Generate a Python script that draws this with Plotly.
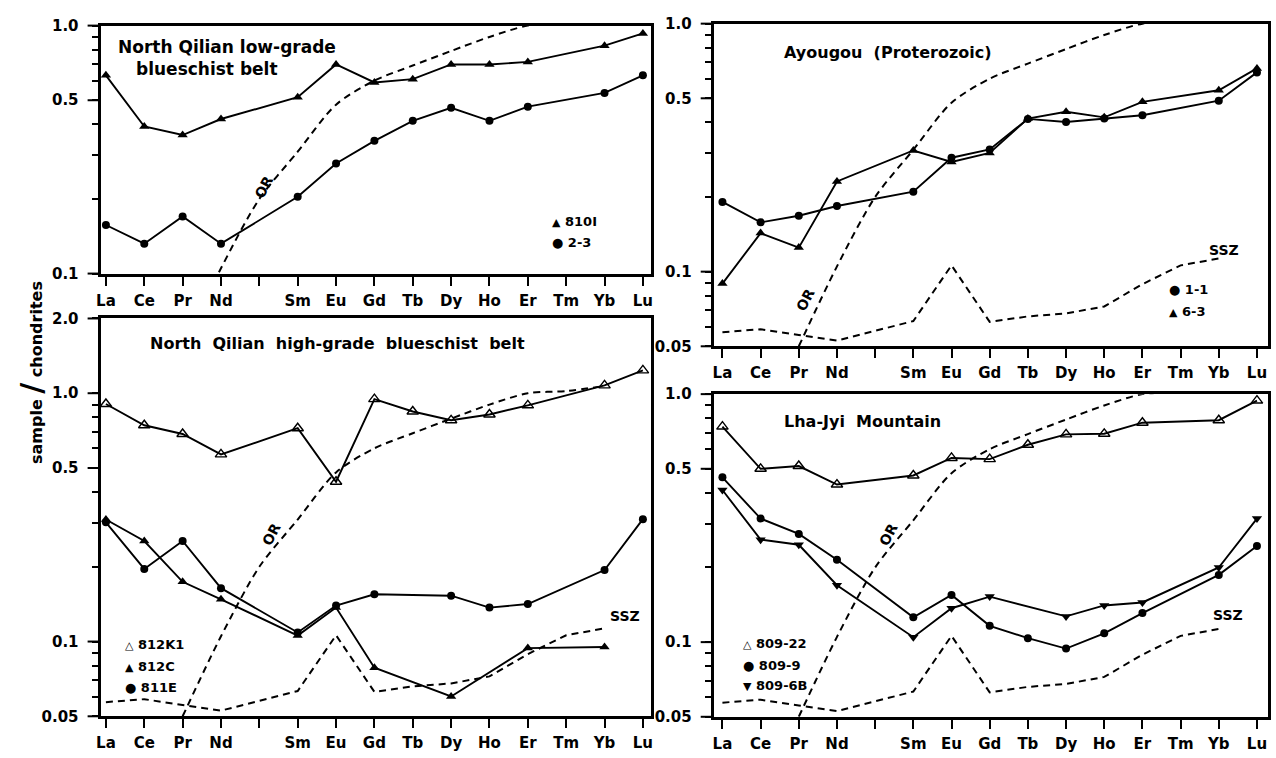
import math
import plotly.graph_objects as go

W, H = 1276, 758

# ---------------- data ----------------
elements = ["La", "Ce", "Pr", "Nd", "Pm", "Sm", "Eu", "Gd", "Tb", "Dy", "Ho", "Er", "Tm", "Yb", "Lu"]
tick_labels = ["La", "Ce", "Pr", "Nd", "", "Sm", "Eu", "Gd", "Tb", "Dy", "Ho", "Er", "Tm", "Yb", "Lu"]

# reference curves
OR = [None, None, 0.05, 0.105, 0.2, 0.31, 0.48, 0.6, 0.69, 0.79, 0.9, 1.0, 1.02, 1.07, None]
SSZ = [0.057, 0.0586, 0.0555, 0.0527, None, 0.0632, 0.106, 0.0627, 0.066, 0.0678, 0.0724, 0.089, 0.106, 0.113, None]

# North Qilian low-grade blueschist belt
s810I = [0.63, 0.392, 0.362, 0.42, None, 0.514, 0.697, 0.59, 0.608, 0.697, 0.697, 0.714, None, 0.83, 0.93]
s2_3 = [0.157, 0.132, 0.17, 0.132, None, 0.204, 0.278, 0.343, 0.413, 0.466, 0.413, 0.471, None, 0.535, 0.63]

# Ayougou (Proterozoic)
s1_1 = [0.191, 0.158, 0.168, 0.184, None, 0.21, 0.288, 0.311, 0.413, 0.401, 0.414, 0.427, None, 0.489, 0.636]
s6_3 = [0.0895, 0.143, 0.125, 0.231, None, 0.308, 0.277, 0.301, 0.414, 0.441, 0.419, 0.484, None, 0.539, 0.66]

# North Qilian high-grade blueschist belt
s812K1 = [0.905, 0.743, 0.685, 0.567, None, 0.723, 0.44, 0.947, 0.844, 0.778, 0.821, 0.894, None, 1.075, 1.236]
s812C = [0.31, 0.254, 0.174, 0.148, None, 0.1057, 0.137, 0.0785, None, 0.0601, None, 0.0941, None, 0.095, None]
s811E = [0.302, 0.196, 0.254, 0.164, None, 0.1088, 0.1396, 0.155, None, 0.153, 0.137, 0.1416, None, 0.194, 0.311]

# Lha-Jyi Mountain
s809_22 = [0.74, 0.5, 0.513, 0.432, None, 0.47, 0.553, 0.547, 0.625, 0.688, 0.692, 0.767, None, 0.785, 0.942]
s809_9 = [0.462, 0.315, 0.273, 0.215, None, 0.126, 0.155, 0.1163, 0.1037, 0.0942, 0.1085, 0.131, None, 0.1867, 0.244]
s809_6B = [0.4106, 0.259, 0.247, 0.1697, None, 0.1047, 0.137, 0.1526, None, 0.127, 0.1406, 0.1445, None, 0.2, 0.315]

major_ticks = [0.05, 0.1, 0.5, 1.0, 2.0]
major_text = ["0.05", "0.1", "0.5", "1.0", "2.0"]
minor_ticks = [0.06, 0.07, 0.08, 0.09, 0.2, 0.3, 0.4, 0.6, 0.7, 0.8, 0.9]

x_idx = list(range(len(elements)))

FONT = "DejaVu Sans, Verdana, sans-serif"


def fx(p):
    return p / W


def fy(p):
    return 1 - p / H


fig = go.Figure()

# panel geometry in pixels: (left, right, top, bottom, ymin, ymax, xmin, xmax)
panels = {
    1: (97, 650, 17, 271, 0.1, 1.0, -0.14, 14.21),
    2: (713, 1270, 15, 345.5, 0.05, 1.0, -0.23, 14.29),
    3: (97, 650, 317, 724.5, 0.05, 2.0, -0.14, 14.21),
    4: (713, 1270, 394.5, 725, 0.05, 1.0, -0.23, 14.29),
}

TICKFONT = dict(family=FONT, size=15, color="black", weight="bold")
shapes = []

for k, (l, r, t, b, ymin, ymax, xmin, xmax) in panels.items():
    sfx = "" if k == 1 else str(k)
    lo, hi = math.log10(ymin), math.log10(ymax)
    mj = [(v, s) for v, s in zip(major_ticks, major_text) if ymin - 1e-9 <= v <= ymax + 1e-9]
    mn = [v for v in minor_ticks if ymin < v < ymax]
    allv = sorted([v for v, _ in mj] + mn)
    labels = {v: s for v, s in mj}
    fig.layout["xaxis" + sfx] = dict(
        domain=[fx(l), fx(r)], anchor="y" + sfx, range=[xmin, xmax],
        tickmode="array", tickvals=x_idx, ticktext=tick_labels,
        ticks="outside", ticklen=9, tickwidth=2, tickcolor="black",
        showline=True, linewidth=3, linecolor="black", mirror=True,
        showgrid=False, zeroline=False, ticklabelstandoff=2,
        tickfont=TICKFONT,
    )
    fig.layout["yaxis" + sfx] = dict(
        domain=[fy(b), fy(t)], anchor="x" + sfx, type="log", range=[lo, hi],
        tickmode="array", tickvals=allv, ticktext=[labels.get(v, "") for v in allv],
        ticks="outside", ticklen=6, tickwidth=2, tickcolor="black",
        showline=True, linewidth=3, linecolor="black", mirror=True,
        showgrid=False, zeroline=False, ticklabelstandoff=10,
        tickfont=TICKFONT,
    )
    # longer major tick marks (axis decoration, paper coords)
    for v, _ in mj:
        yp = b - (math.log10(v) - lo) / (hi - lo) * (b - t)
        shapes.append(dict(type="line", xref="paper", yref="paper",
                           x0=fx(l - 13), x1=fx(l), y0=fy(yp), y1=fy(yp),
                           line=dict(color="black", width=2)))


def ref_line(vals, k, spline=False):
    sfx = "" if k == 1 else str(k)
    fig.add_trace(go.Scatter(
        x=x_idx, y=vals, mode="lines", connectgaps=True,
        line=dict(color="black", width=2, dash="7px,5px", shape="spline" if spline else "linear", smoothing=0.8),
        xaxis="x" + sfx, yaxis="y" + sfx, showlegend=False, hoverinfo="skip"))


def data_line(vals, k, symbol, size=9, open_=False):
    sfx = "" if k == 1 else str(k)
    marker = dict(symbol=symbol, size=size, color="black")
    if open_:
        marker = dict(symbol=symbol, size=size + 1, color="black", line=dict(width=1.4, color="black"))
    fig.add_trace(go.Scatter(
        x=x_idx, y=vals, mode="lines+markers", connectgaps=True,
        line=dict(color="black", width=1.9), marker=marker,
        xaxis="x" + sfx, yaxis="y" + sfx, showlegend=False))


# panel 1
ref_line(OR, 1, spline=True)
data_line(s810I, 1, "triangle-up", 9)
data_line(s2_3, 1, "circle", 8)
# panel 2
ref_line(OR, 2, spline=True)
ref_line(SSZ, 2)
data_line(s1_1, 2, "circle", 8)
data_line(s6_3, 2, "triangle-up", 9)
# panel 3
ref_line(OR, 3, spline=True)
ref_line(SSZ, 3)
data_line(s812K1, 3, "triangle-up-open", 9, open_=True)
data_line(s812C, 3, "triangle-up", 9)
data_line(s811E, 3, "circle", 8)
# panel 4
ref_line(OR, 4, spline=True)
ref_line(SSZ, 4)
data_line(s809_22, 4, "triangle-up-open", 9, open_=True)
data_line(s809_9, 4, "circle", 8)
data_line(s809_6B, 4, "triangle-down", 9)


def note(text, x, y, size=16, xanchor="center", angle=0):
    fig.add_annotation(
        text=text, x=fx(x), y=fy(y), xref="paper", yref="paper",
        xanchor=xanchor, yanchor="middle", showarrow=False, textangle=angle,
        font=dict(family=FONT, size=size, color="black", weight="bold"))


# titles
note("North Qilian low-grade", 224, 39, 17)
note("blueschist belt", 204, 61, 17)
note("Ayougou  (Proterozoic)", 888, 45, 16)
note("North  Qilian  high-grade  blueschist  belt", 335, 343, 16)
note("Lha-Jyi  Mountain", 863, 423, 16)

# legends
TRI = "<span style='font-size:11px'>▲</span>"
OTRI = "<span style='font-size:11px'>△</span>"
DTRI = "<span style='font-size:11px'>▼</span>"
DOT = "<span style='font-size:13px'>●</span>"
note(TRI + " 810I", 549, 218, 13, "left")
note(DOT + " 2-3", 549, 239, 13, "left")
note(DOT + " 1-1", 1168, 287, 13, "left")
note(TRI + " 6-3", 1168, 310, 13, "left")
note(OTRI + " 812K1", 120, 651, 13, "left")
note(TRI + " 812C", 120, 673, 13, "left")
note(DOT + " 811E", 120, 695, 13, "left")
note(OTRI + " 809-22", 740, 650, 13, "left")
note(DOT + " 809-9", 740, 672, 13, "left")
note(DTRI + " 809-6B", 740, 693, 13, "left")

# curve labels
for (x, y) in [(1226, 247), (624, 622), (1230, 621)]:
    note("SSZ", x, y, 14)
for (x, y) in [(261, 182), (805, 298), (269, 538), (889, 538)]:
    note("OR", x, y, 14, angle=-62)

# y axis title
note("sample <span style='font-size:30px'>/</span> chondrites", 27, 372, 16, angle=-90)

fig.update_layout(
    width=W, height=H, margin=dict(l=0, r=0, t=0, b=0),
    paper_bgcolor="white", plot_bgcolor="white", showlegend=False,
    shapes=shapes,
)

fig.write_html("out.html")
